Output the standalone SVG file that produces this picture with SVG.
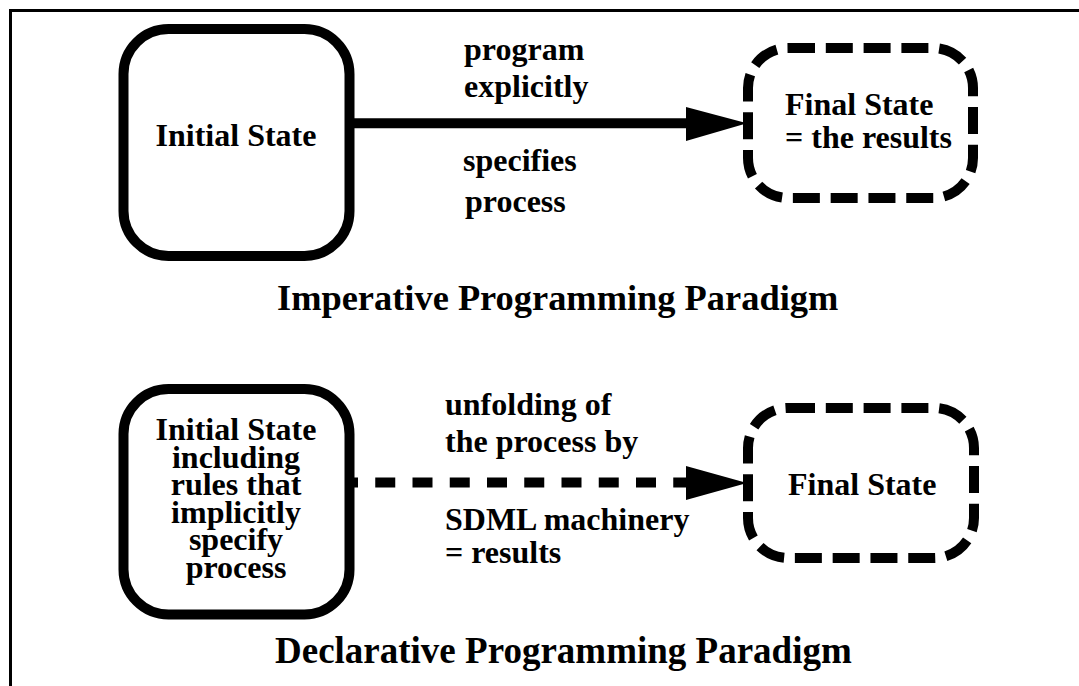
<svg xmlns="http://www.w3.org/2000/svg" width="1079" height="686" viewBox="0 0 1079 686">
<style>
  text { font-family: "Liberation Serif", "Times New Roman", serif; font-weight: bold; fill: #000; }
  .lbl { font-size: 32px; }
  .title { font-size: 37px; }
  .solid { fill: #fff; stroke: #000; stroke-width: 10; }
  .dashed { fill: #fff; stroke: #000; stroke-width: 10; stroke-dasharray: 27 10.8; }
  .mid { text-anchor: middle; }
</style>
<rect x="0" y="0" width="1079" height="686" fill="#fff"/>
<g id="frame">
  <path d="M10.5 686 V10.5 H1079" fill="none" stroke="#000" stroke-width="3"/>
</g>
<g id="connectors">
  <line x1="350" y1="123.3" x2="690" y2="123.3" stroke="#000" stroke-width="10"/>
  <polygon points="686,107 747,123.3 686,141"/>
  <line x1="338" y1="482.5" x2="686" y2="482.5" stroke="#000" stroke-width="10" stroke-dasharray="20 17.25"/>
  <polygon points="686,466 747,483 686,500"/>
</g>
<g id="imp-initial">
  <rect class="solid" x="123.5" y="29" width="226" height="227" rx="45" ry="45"/>
  <text class="lbl mid" x="236" y="146">Initial State</text>
</g>
<g id="imp-final">
  <rect class="dashed" x="748" y="48" width="225" height="150" rx="40" ry="40"/>
  <text class="lbl" x="785" y="115">Final State</text>
  <text class="lbl" x="785" y="148">= the results</text>
</g>
<g id="imp-labels">
  <text class="lbl" x="464" y="60">program</text>
  <text class="lbl" x="464" y="97">explicitly</text>
  <text class="lbl" x="463" y="171">specifies</text>
  <text class="lbl" x="465" y="212">process</text>
</g>
<g id="imp-title">
  <text class="title" x="277" y="310" style="font-size:36.4px">Imperative Programming Paradigm</text>
</g>
<g id="dec-initial">
  <rect class="solid" x="123.5" y="389" width="226" height="225.5" rx="45" ry="45"/>
  <text class="lbl mid" x="236" y="440">Initial State</text>
  <text class="lbl mid" x="236" y="467.5">including</text>
  <text class="lbl mid" x="236" y="495">rules that</text>
  <text class="lbl mid" x="236" y="522.5">implicitly</text>
  <text class="lbl mid" x="236" y="550">specify</text>
  <text class="lbl mid" x="236" y="577.5">process</text>
</g>
<g id="dec-final">
  <rect class="dashed" x="748" y="408" width="226" height="150" rx="40" ry="40"/>
  <text class="lbl" x="788" y="495">Final State</text>
</g>
<g id="dec-labels">
  <text class="lbl" x="445" y="415">unfolding of</text>
  <text class="lbl" x="445" y="452">the process by</text>
  <text class="lbl" x="445" y="530">SDML machinery</text>
  <text class="lbl" x="445" y="563">= results</text>
</g>
<g id="dec-title">
  <text class="title" x="275" y="663">Declarative Programming Paradigm</text>
</g>
</svg>
